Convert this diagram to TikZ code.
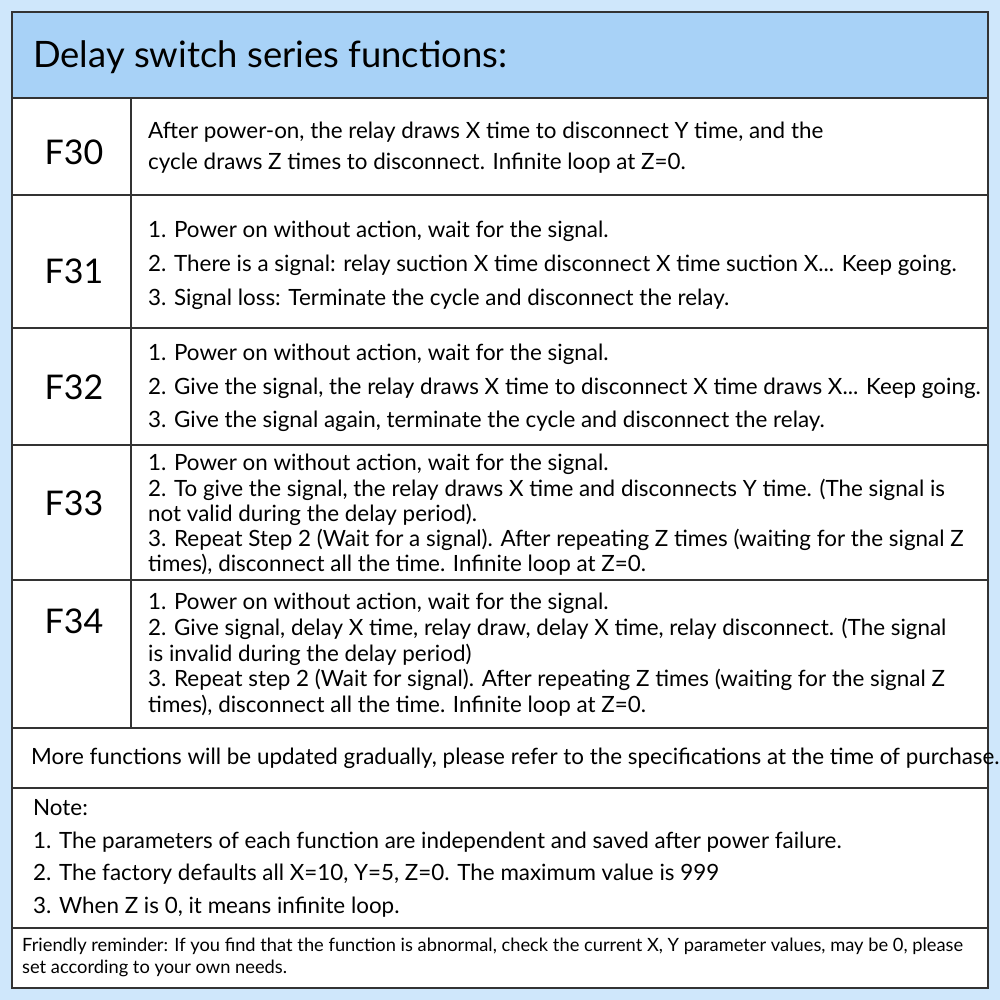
\documentclass[tikz,border=0pt]{standalone}
\usepackage{fontspec}
\setmainfont{Lato}
\begin{document}
\begin{tikzpicture}[x=1pt,y=-1pt,
  t/.style={anchor=west,inner sep=0pt,font=\fontsize{22.4}{26}\selectfont},
  f/.style={inner sep=0pt,font=\fontsize{34}{38}\selectfont},
  ln/.style={draw=black!80,line width=1.2pt}]
\definecolor{bgc}{HTML}{CFE7FB}
\definecolor{hdc}{HTML}{A8D2F7}
\useasboundingbox (0,0) rectangle (1000,1000);
\fill[bgc] (0,0) rectangle (1000,1000);
\fill[white] (12,12) rectangle (988,988);
\fill[hdc] (12,12) rectangle (988,98);
\draw[ln] (12,12) rectangle (988,988);
\foreach \y in {98,195,328,445,580,728,788,928} \draw[ln] (12,\y) -- (988,\y);
\draw[ln] (131,98) -- (131,728);
\node[anchor=west,inner sep=0pt,font=\fontsize{36.4}{42}\selectfont] (h) at (33,57) {Delay switch series functions:};
\node[f] (f30) at (74,152) {F30};
\node[f] (f31) at (74,271) {F31};
\node[f] (f32) at (74,387) {F32};
\node[f] (f33) at (74,503) {F33};
\node[f] (f34) at (74,621) {F34};
\node[t] (a1) at (148,132) {After power-on, the relay draws X time to disconnect Y time, and the};
\node[t] (a2) at (148,163) {cycle draws Z times to disconnect. Infinite loop at Z=0.};
\node[t] (b1) at (148,231) {1. Power on without action, wait for the signal.};
\node[t] (b2) at (148,265) {2. There is a signal: relay suction X time disconnect X time suction X... Keep going.};
\node[t] (b3) at (148,299) {3. Signal loss: Terminate the cycle and disconnect the relay.};
\node[t] (c1) at (148,354) {1. Power on without action, wait for the signal.};
\node[t] (c2) at (148,388) {2. Give the signal, the relay draws X time to disconnect X time draws X... Keep going.};
\node[t] (c3) at (148,421) {3. Give the signal again, terminate the cycle and disconnect the relay.};
\node[t] (d1) at (148,464) {1. Power on without action, wait for the signal.};
\node[t] (d2) at (148,490) {2. To give the signal, the relay draws X time and disconnects Y time. (The signal is};
\node[t] (d3) at (148,515) {not valid during the delay period).};
\node[t] (d4) at (148,540) {3. Repeat Step 2 (Wait for a signal). After repeating Z times (waiting for the signal Z};
\node[t] (d5) at (148,565) {times), disconnect all the time. Infinite loop at Z=0.};
\node[t] (e1) at (148,603) {1. Power on without action, wait for the signal.};
\node[t] (e2) at (148,629) {2. Give signal, delay X time, relay draw, delay X time, relay disconnect. (The signal};
\node[t] (e3) at (148,655) {is invalid during the delay period)};
\node[t] (e4) at (148,680) {3. Repeat step 2 (Wait for signal). After repeating Z times (waiting for the signal Z};
\node[t] (e5) at (148,706) {times), disconnect all the time. Infinite loop at Z=0.};
\node[t] (m) at (31,758) {More functions will be updated gradually, please refer to the specifications at the time of purchase.};
\node[t] (n0) at (33,808) {Note:};
\node[t] (n1) at (33,842) {1. The parameters of each function are independent and saved after power failure.};
\node[t] (n2) at (33,874) {2. The factory defaults all X=10, Y=5, Z=0. The maximum value is 999};
\node[t] (n3) at (33,907) {3. When Z is 0, it means infinite loop.};
\node[t,font=\fontsize{18.3}{21}\selectfont] (r1) at (22,946) {Friendly reminder: If you find that the function is abnormal, check the current X, Y parameter values, may be 0, please};
\node[t,font=\fontsize{18.3}{21}\selectfont] (r2) at (22,968) {set according to your own needs.};
\end{tikzpicture}
\end{document}
